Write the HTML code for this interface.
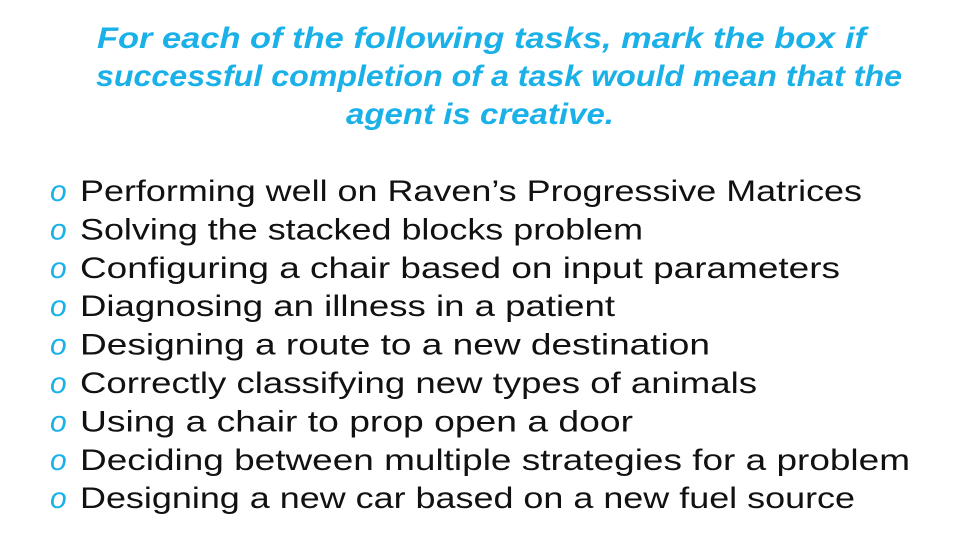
<!DOCTYPE html>
<html><head><meta charset="utf-8"><style>
html,body{margin:0;padding:0;background:#fff;}
svg{display:block;}
.t{font-family:"Liberation Sans",sans-serif;font-weight:bold;font-style:italic;font-size:30px;fill:#1ab0e8;}
.i{font-family:"Liberation Sans",sans-serif;font-size:30px;fill:#111;}
.b{font-family:"Liberation Sans",sans-serif;font-style:italic;font-size:30px;fill:#1ab0e8;}
</style></head><body>
<svg width="960" height="540" viewBox="0 0 960 540">
<rect width="960" height="540" fill="#fff"/>
<g>
<text class="t" x="97" y="48" textLength="769" lengthAdjust="spacingAndGlyphs">For each of the following tasks, mark the box if</text>
<text class="t" x="96" y="86" textLength="806" lengthAdjust="spacingAndGlyphs">successful completion of a task would mean that the</text>
<text class="t" x="346" y="124" textLength="268" lengthAdjust="spacingAndGlyphs">agent is creative.</text>
</g>
<g id="list"></g>
</svg>
<script>
const items=[
["Performing well on Raven’s Progressive Matrices",782],
["Solving the stacked blocks problem",563],
["Configuring a chair based on input parameters",760],
["Diagnosing an illness in a patient",535],
["Designing a route to a new destination",630],
["Correctly classifying new types of animals",677],
["Using a chair to prop open a door",553],
["Deciding between multiple strategies for a problem",830],
["Designing a new car based on a new fuel source",775]
];
const ns="http://www.w3.org/2000/svg";
const g=document.getElementById('list');
items.forEach((it,k)=>{
  const y=201+k*38.4;
  const b=document.createElementNS(ns,'text');
  b.setAttribute('class','b');b.setAttribute('x','50');b.setAttribute('y',y);
  b.textContent='o';
  
  
  g.appendChild(b);
  const t=document.createElementNS(ns,'text');
  t.setAttribute('class','i');t.setAttribute('x','80');t.setAttribute('y',y);
  t.setAttribute('textLength',it[1]);t.setAttribute('lengthAdjust','spacingAndGlyphs');
  t.textContent=it[0];
  
  
  g.appendChild(t);
});
</script>
</body></html>
